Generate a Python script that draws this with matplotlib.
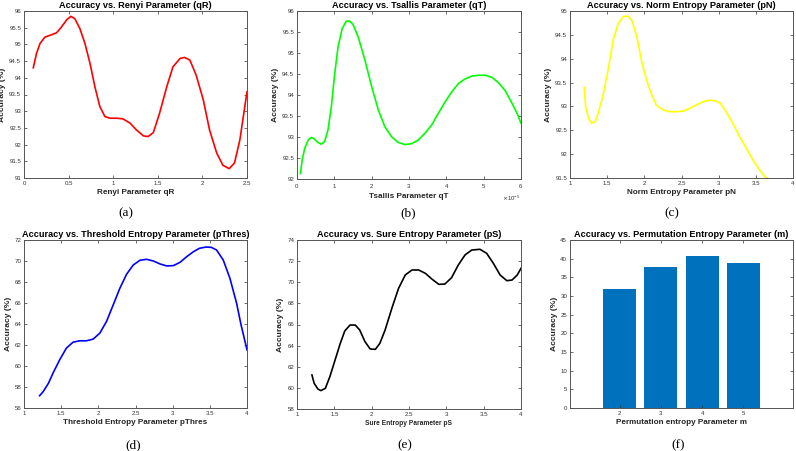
import numpy as np
import matplotlib.pyplot as plt
from matplotlib.ticker import FuncFormatter, ScalarFormatter

plt.rcParams['font.family'] = 'Liberation Sans'

# (a) Renyi
qr_x = [0.104, 0.14, 0.18, 0.235, 0.31, 0.366, 0.42, 0.48, 0.526, 0.57, 0.627, 0.683, 0.74, 0.795,
        0.85, 0.907, 0.963, 1.04, 1.11, 1.19, 1.26, 1.34, 1.39, 1.45, 1.52, 1.60, 1.67, 1.75, 1.80,
        1.86, 1.93, 2.01, 2.08, 2.16, 2.23, 2.30, 2.36, 2.42, 2.47, 2.5]
qr_y = [94.30, 94.73, 95.03, 95.22, 95.29, 95.35, 95.52, 95.74, 95.84, 95.77, 95.47, 95.03, 94.43, 93.73,
        93.14, 92.84, 92.79, 92.79, 92.77, 92.64, 92.44, 92.26, 92.24, 92.36, 92.94, 93.73, 94.33, 94.58, 94.61,
        94.53, 94.08, 93.34, 92.44, 91.75, 91.38, 91.28, 91.45, 92.14, 93.04, 93.58]

# (b) Tsallis (x in units of 1e-5)
qt_x = [0.09, 0.14, 0.21, 0.30, 0.39, 0.47, 0.56, 0.65, 0.74, 0.83, 0.92, 1.01, 1.10, 1.21, 1.32, 1.41,
        1.50, 1.64, 1.82, 2.00, 2.18, 2.35, 2.53, 2.71, 2.89, 3.07, 3.25, 3.43, 3.61, 3.79, 3.97, 4.15,
        4.33, 4.50, 4.68, 4.86, 5.04, 5.22, 5.40, 5.58, 5.76, 5.89, 6.0]
qt_y = [92.13, 92.46, 92.74, 92.93, 92.99, 92.95, 92.87, 92.83, 92.89, 93.17, 93.72, 94.51, 95.15, 95.58,
        95.76, 95.76, 95.68, 95.38, 94.83, 94.20, 93.64, 93.25, 93.01, 92.87, 92.82, 92.84, 92.93, 93.09,
        93.29, 93.57, 93.84, 94.08, 94.28, 94.38, 94.45, 94.47, 94.47, 94.42, 94.29, 94.10, 93.80, 93.57, 93.33]

# (c) Norm entropy
pn_x = [1.19, 1.21, 1.25, 1.29, 1.34, 1.38, 1.45, 1.52, 1.58, 1.65, 1.72, 1.78, 1.83, 1.90, 1.96, 2.03,
        2.10, 2.16, 2.25, 2.34, 2.43, 2.52, 2.61, 2.70, 2.79, 2.88, 2.95, 3.02, 3.10, 3.19, 3.28, 3.37,
        3.46, 3.55, 3.62, 3.70]
pn_y = [93.40, 93.00, 92.75, 92.65, 92.68, 92.86, 93.27, 93.83, 94.39, 94.74, 94.89, 94.89, 94.81, 94.46,
        93.97, 93.55, 93.24, 93.03, 92.93, 92.89, 92.89, 92.90, 92.96, 93.03, 93.10, 93.13, 93.12, 93.07,
        92.89, 92.65, 92.37, 92.13, 91.88, 91.67, 91.53, 91.45]

# (d) Threshold entropy
pt_x = [1.21, 1.26, 1.33, 1.39, 1.48, 1.57, 1.66, 1.75, 1.84, 1.93, 2.02, 2.11, 2.20, 2.29, 2.38, 2.47,
        2.56, 2.65, 2.74, 2.83, 2.92, 3.01, 3.10, 3.19, 3.28, 3.36, 3.45, 3.52, 3.59, 3.68, 3.77, 3.86,
        3.92, 4.0]
pt_y = [57.17, 57.58, 58.37, 59.32, 60.59, 61.70, 62.27, 62.40, 62.40, 62.56, 63.13, 64.24, 65.82, 67.41,
        68.74, 69.62, 70.07, 70.16, 70.00, 69.72, 69.53, 69.56, 69.88, 70.42, 70.89, 71.21, 71.33, 71.30,
        71.05, 70.10, 68.36, 65.98, 63.92, 61.54]

# (e) Sure entropy
ps_x = [1.20, 1.23, 1.28, 1.32, 1.38, 1.44, 1.51, 1.58, 1.64, 1.71, 1.78, 1.84, 1.91, 1.98, 2.05, 2.11,
        2.18, 2.27, 2.36, 2.45, 2.54, 2.63, 2.72, 2.81, 2.90, 2.98, 3.07, 3.16, 3.25, 3.34, 3.45, 3.54,
        3.63, 3.72, 3.81, 3.88, 3.95, 4.0]
ps_y = [61.22, 60.43, 59.89, 59.74, 59.96, 61.06, 62.64, 64.22, 65.39, 65.95, 65.95, 65.48, 64.38, 63.68,
        63.65, 64.22, 65.48, 67.53, 69.42, 70.69, 71.16, 71.16, 70.84, 70.28, 69.80, 69.83, 70.43, 71.63,
        72.58, 73.05, 73.12, 72.74, 71.79, 70.69, 70.15, 70.21, 70.69, 71.32]

# (f) Permutation entropy
perm_m = [2, 3, 4, 5]
perm_acc = [31.9, 37.8, 40.8, 38.8]

W, H = 796, 451
fig = plt.figure(figsize=(W / 100, H / 100), dpi=100)


def make_ax(l, t, r, b):
    return fig.add_axes([l / W, 1 - b / H, (r - l) / W, (b - t) / H])


def style(ax, title, xlabel, xlim, ylim, yticks, xticks=None, xl_size=5.9):
    ax.set_xlim(*xlim)
    ax.set_ylim(*ylim)
    ax.set_yticks(yticks)
    if xticks is not None:
        ax.set_xticks(xticks)
    ax.yaxis.set_major_formatter(FuncFormatter(lambda v, p: '%g' % round(v, 4)))
    ax.tick_params(direction='in', length=2.5, width=0.5, labelsize=4.4, colors='#333333',
                   top=True, right=True, pad=2)
    for s in ax.spines.values():
        s.set_linewidth(0.7)
        s.set_color('#555555')
    ax.set_title(title, fontsize=6.6, fontweight='bold', pad=2, color='black')
    ax.set_xlabel(xlabel, fontsize=xl_size, fontweight='bold', labelpad=2, color='#262626')
    ax.set_ylabel('Accuracy (%)', fontsize=6.1, fontweight='bold', labelpad=2, color='#262626')


ax = make_ax(24, 11, 247, 178)
ax.plot(qr_x, qr_y, color='red', lw=1.2)
style(ax, 'Accuracy vs. Renyi Parameter (qR)', 'Renyi Parameter qR', (0, 2.5), (91, 96),
      np.arange(91, 96.01, 0.5), [0, 0.5, 1, 1.5, 2, 2.5])
ax.xaxis.set_major_formatter(FuncFormatter(lambda v, p: '%g' % v))

ax = make_ax(297, 11, 521, 179)
ax.plot(np.array(qt_x) * 1e-5, qt_y, color='#00ff00', lw=1.2)
style(ax, 'Accuracy vs. Tsallis Parameter (qT)', 'Tsallis Parameter qT', (0, 6e-5), (92, 96),
      np.arange(92, 96.01, 0.5), np.arange(0, 6.01e-5, 1e-5))
sf = ScalarFormatter(useMathText=True)
sf.set_powerlimits((-3, 3))
ax.xaxis.set_major_formatter(sf)
ax.xaxis.get_offset_text().set_fontsize(4.4)
ax.xaxis.get_offset_text().set_color('#333333')

ax = make_ax(570, 11, 793, 178)
ax.plot(pn_x, pn_y, color='#ffff00', lw=1.2)
style(ax, 'Accuracy vs. Norm Entropy Parameter (pN)', 'Norm Entropy Parameter pN', (1, 4), (91.5, 95),
      np.arange(91.5, 95.01, 0.5), [1, 1.5, 2, 2.5, 3, 3.5, 4])
ax.xaxis.set_major_formatter(FuncFormatter(lambda v, p: '%g' % v))

ax = make_ax(24, 240, 247, 408)
ax.plot(pt_x, pt_y, color='blue', lw=1.2)
style(ax, 'Accuracy vs. Threshold Entropy Parameter (pThres)', 'Threshold Entropy Parameter pThres',
      (1, 4), (56, 72), np.arange(56, 72.1, 2), [1, 1.5, 2, 2.5, 3, 3.5, 4])
ax.xaxis.set_major_formatter(FuncFormatter(lambda v, p: '%g' % v))

ax = make_ax(297, 240, 521, 409)
ax.plot(ps_x, ps_y, color='black', lw=1.2)
style(ax, 'Accuracy vs. Sure Entropy Parameter (pS)', 'Sure Entropy Parameter pS',
      (1, 4), (58, 74), np.arange(58, 74.1, 2), [1, 1.5, 2, 2.5, 3, 3.5, 4], xl_size=4.8)
ax.xaxis.set_major_formatter(FuncFormatter(lambda v, p: '%g' % v))

ax = make_ax(570, 240, 793, 408)
ax.bar(perm_m, perm_acc, width=0.8, color='#0072BD')
style(ax, 'Accuracy vs. Permutation Entropy Parameter (m)', 'Permutation entropy Parameter m',
      (0.8, 6.2), (0, 45), np.arange(0, 45.1, 5), perm_m)

for lbl, x, y in [('(a)', 126, 213), ('(b)', 408, 213), ('(c)', 672, 213),
                  ('(d)', 133, 445), ('(e)', 405, 445), ('(f)', 678, 445)]:
    fig.text(x / W, 1 - y / H, lbl, family='Liberation Serif', fontsize=9.5,
             ha='center', va='center')

fig.savefig('out.png', dpi=100)
